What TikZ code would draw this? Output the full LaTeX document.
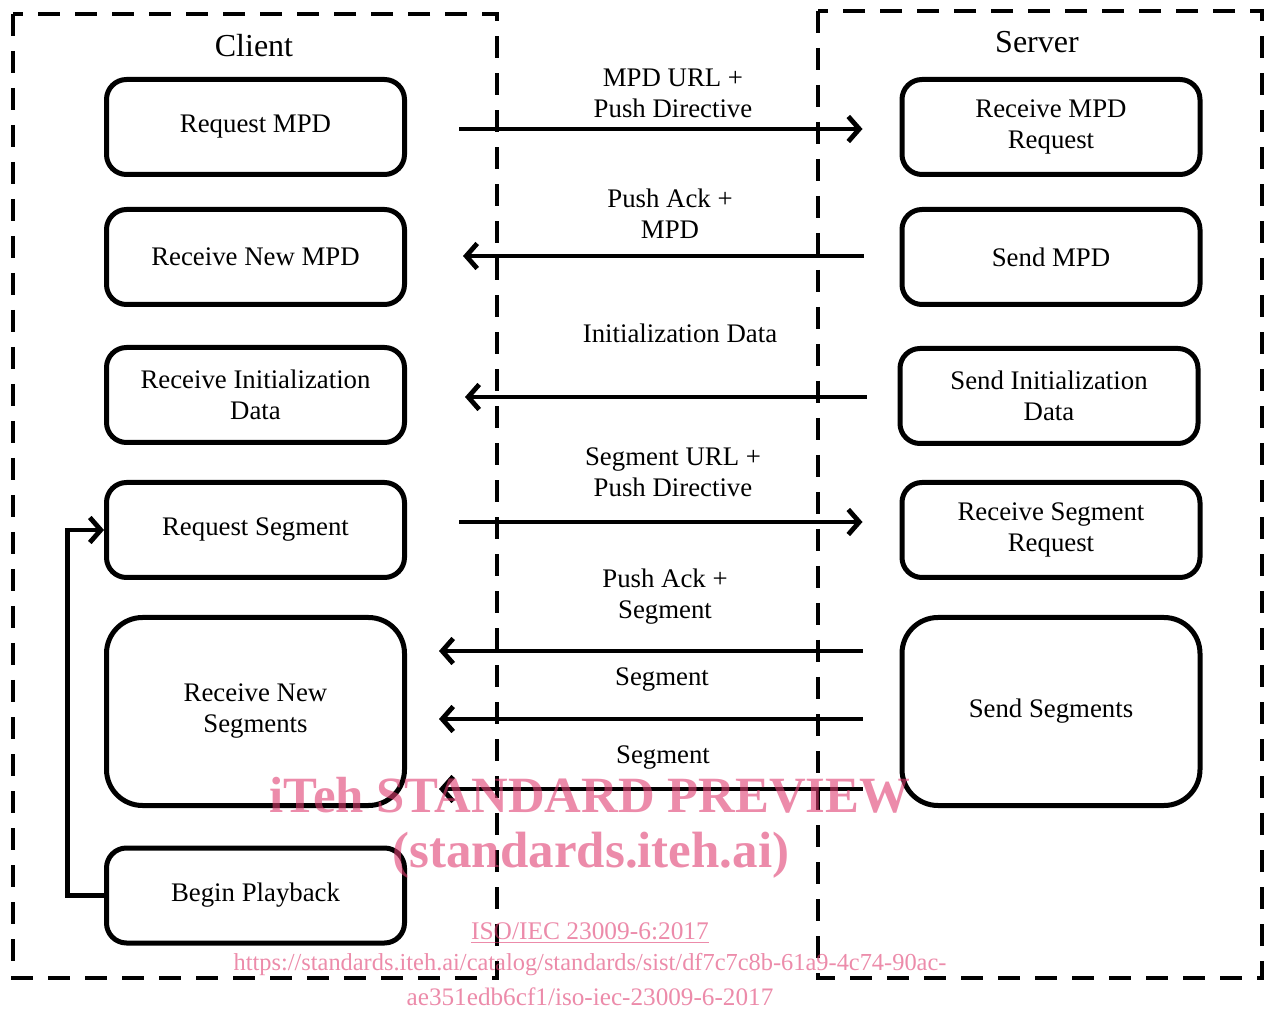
\documentclass[tikz,border=0pt]{standalone}
\usepackage{fontspec}
\setmainfont{Liberation Serif}
\usepackage{tikz}
\usetikzlibrary{arrows.meta}

\definecolor{wmpink}{RGB}{223,62,113}
\newcommand{\boxfont}{\fontsize{13.4}{15.5}\selectfont}

\begin{document}
\begin{tikzpicture}[x=0.5pt, y=-0.5pt,
    zone/.style={draw, line width=2pt, dash pattern=on 11pt off 7.5pt},
    proc/.style={draw, line width=2.5pt, rounded corners=10pt, minimum width=149pt,
                 minimum height=47.5pt, align=center, font=\boxfont, inner sep=2pt},
    tallproc/.style={proc, minimum height=94pt, rounded corners=18pt},
    msg/.style={line width=2.4pt, -{Straight Barb[length=5.5pt,width=12.5pt,line width=2.4pt]}},
    lbl/.style={align=center, font=\boxfont, inner sep=1pt},
    wmark/.style={text=wmpink, text opacity=0.6, inner sep=0pt}]
  \useasboundingbox (0,0) rectangle (1265,1010);

  % client and server areas
  \draw[zone] (13,14) rectangle (497,978);
  \draw[zone] (818,11) rectangle (1262,978);
  \node[font=\fontsize{16}{19}\selectfont] (client) at (254,46) {Client};
  \node[font=\fontsize{16}{19}\selectfont] (server) at (1037,42) {Server};

  % client steps
  \node[proc] (reqmpd)   at (255.5,127)   {Request MPD};
  \node[proc] (rcvmpd)   at (255.5,257)   {Receive New MPD};
  \node[proc] (rcvinit)  at (255.5,395)   {Receive Initialization\\Data};
  \node[proc] (reqseg)   at (255.5,530)   {Request Segment};
  \node[tallproc] (rcvsegs) at (255.5,711.5) {Receive New\\Segments};
  \node[proc] (play)     at (255.5,895.5) {Begin Playback};

  % server steps
  \node[proc] (srvmpdreq) at (1051,127)   {Receive MPD\\Request};
  \node[proc] (srvmpd)    at (1051,257)   {Send MPD};
  \node[proc] (srvinit)   at (1049,396)   {Send Initialization\\Data};
  \node[proc] (srvsegreq) at (1051,530)   {Receive Segment\\Request};
  \node[tallproc] (srvsegs) at (1051,711.5) {Send Segments};

  % messages
  \draw[msg] ([xshift=26pt,yshift=-1pt]reqmpd.east) -- ([xshift=-18.5pt,yshift=-1pt]srvmpdreq.west);
  \draw[msg] ([xshift=-18pt,yshift=0.5pt]srvmpd.west) -- ([xshift=28pt,yshift=0.5pt]rcvmpd.east);
  \draw[msg] ([xshift=-15.5pt,yshift=-0.5pt]srvinit.west) -- ([xshift=29pt,yshift=-1pt]rcvinit.east);
  \draw[msg] ([xshift=26pt,yshift=4pt]reqseg.east) -- ([xshift=-18.5pt,yshift=4pt]srvsegreq.west);
  \draw[msg] ([xshift=-18.5pt,yshift=30.25pt]srvsegs.west) -- ([xshift=16pt,yshift=30.25pt]rcvsegs.east);
  \draw[msg] ([xshift=-18.5pt,yshift=-3.75pt]srvsegs.west) -- ([xshift=16pt,yshift=-3.75pt]rcvsegs.east);
  \draw[msg] ([xshift=-18.5pt,yshift=-38.75pt]srvsegs.west) -- ([xshift=16pt,yshift=-38.75pt]rcvsegs.east);
  \draw[msg] (play.west) -- ++(-36.5,0) |- (reqseg.west);

  \node[lbl] (m1) at (673,93)  {MPD URL +\\Push Directive};
  \node[lbl] (m2) at (670,214) {Push Ack +\\MPD};
  \node[lbl] (m3) at (680,333) {Initialization Data};
  \node[lbl] (m4) at (673,472) {Segment URL +\\ Push Directive};
  \node[lbl] (m5) at (665,597) {Push Ack +\\Segment};
  \node[lbl] (m6) at (662,680) {Segment};
  \node[lbl] (m7) at (663,758) {Segment};

  % watermark
  \node[wmark, font=\fontsize{25.4}{28}\selectfont\bfseries] (wm1) at (590,795) {iTeh STANDARD PREVIEW};
  \node[wmark, font=\fontsize{25.5}{28}\selectfont\bfseries] (wm2) at (591,855) {(standards.iteh.ai)};
  \node[wmark, font=\fontsize{12.7}{14}\selectfont] (wm3) at (590,933) {\underline{ISO/IEC 23009-6:2017}};
  \node[wmark, font=\fontsize{12.2}{14}\selectfont] (wm4) at (590,965) {https://standards.iteh.ai/catalog/standards/sist/df7c7c8b-61a9-4c74-90ac-};
  \node[wmark, font=\fontsize{12.6}{14}\selectfont] (wm5) at (590,997) {ae351edb6cf1/iso-iec-23009-6-2017};
\end{tikzpicture}
\end{document}
